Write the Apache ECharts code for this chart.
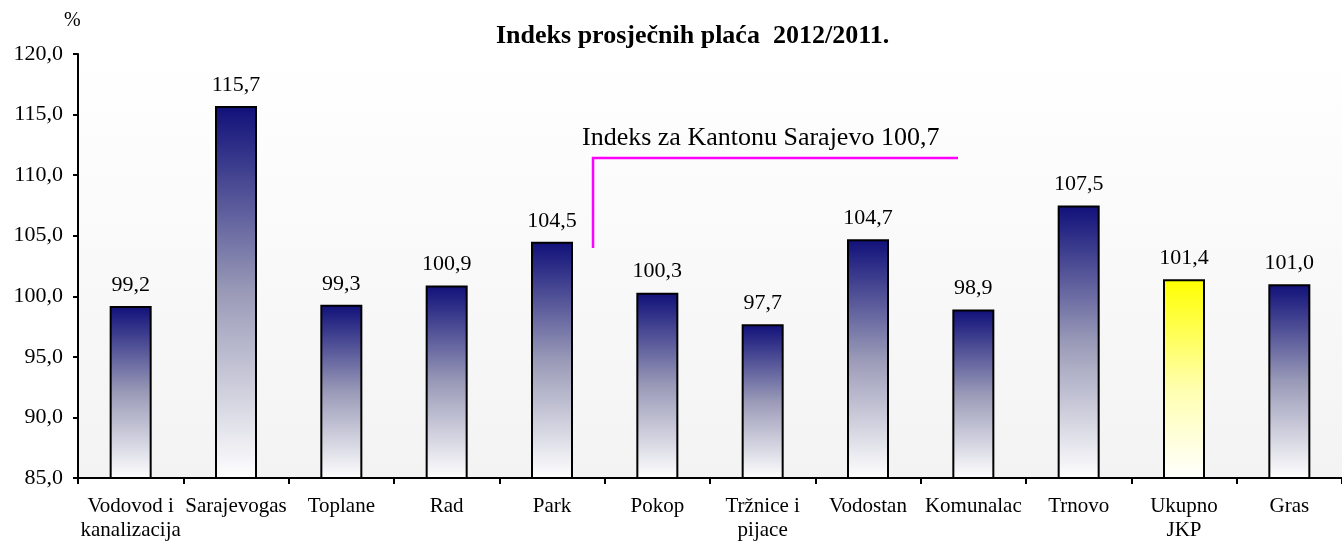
<!DOCTYPE html>
<html>
<head>
<meta charset="utf-8">
<title>Indeks prosječnih plaća 2012/2011.</title>
<script src="https://cdn.jsdelivr.net/npm/echarts@6/dist/echarts.min.js"></script>
<style>
  html, body { margin: 0; padding: 0; background: #fff; }
  #chart { width: 1342px; height: 542px; }
</style>
</head>
<body>
<div id="chart"></div>
<script>
const categories = [
  'Vodovod i\nkanalizacija', 'Sarajevogas', 'Toplane', 'Rad', 'Park', 'Pokop',
  'Tržnice i\npijace', 'Vodostan', 'Komunalac', 'Trnovo', 'Ukupno\nJKP', 'Gras'
];
const indexValues = [99.2, 115.7, 99.3, 100.9, 104.5, 100.3, 97.7, 104.7, 98.9, 107.5, 101.4, 101.0];
const highlighted = ['Ukupno\nJKP'];
const yTicks = [85, 90, 95, 100, 105, 110, 115, 120];

const fontFamily = '"Liberation Serif", "Times New Roman", serif';
const fmt = v => v.toFixed(1).replace('.', ',');

const navyFill = new echarts.graphic.LinearGradient(0, 0, 0, 1, [
  { offset: 0, color: '#10107a' },
  { offset: 0.5, color: '#9a9ab8' },
  { offset: 1, color: '#ffffff' }
]);
const yellowFill = new echarts.graphic.LinearGradient(0, 0, 0, 1, [
  { offset: 0, color: '#ffff00' },
  { offset: 0.55, color: '#ffffb0' },
  { offset: 1, color: '#ffffff' }
]);

const chart = echarts.init(document.getElementById('chart'), null, { renderer: 'canvas' });

chart.setOption({
  animation: false,
  backgroundColor: '#ffffff',
  title: {
    text: 'Indeks prosječnih plaća  2012/2011.',
    left: 491,
    top: 18,
    textStyle: { fontFamily, fontSize: 26, fontWeight: 'bold', color: '#000' }
  },
  grid: {
    left: 78,
    right: -4,
    top: 54,
    bottom: 62,
    show: true,
    borderWidth: 0,
    backgroundColor: new echarts.graphic.LinearGradient(0, 0, 0, 1, [
      { offset: 0, color: '#ffffff' },
      { offset: 1, color: '#f3f3f3' }
    ])
  },
  xAxis: {
    type: 'category',
    data: categories,
    axisLine: { lineStyle: { color: '#000', width: 2 } },
    axisTick: { show: true, alignWithLabel: false, length: 6, lineStyle: { color: '#000', width: 2 } },
    axisLabel: {
      interval: 0,
      margin: 16,
      fontFamily,
      fontSize: 21,
      color: '#000',
      lineHeight: 24
    },
    splitLine: { show: false }
  },
  yAxis: {
    type: 'value',
    min: yTicks[0],
    max: yTicks[yTicks.length - 1],
    interval: 5,
    axisLine: { show: true, lineStyle: { color: '#000', width: 2 } },
    axisTick: { show: true, inside: false, length: 5, lineStyle: { color: '#000', width: 2 } },
    axisLabel: {
      margin: 15,
      fontFamily,
      fontSize: 22,
      color: '#000',
      formatter: fmt
    },
    splitLine: { show: false }
  },
  series: [{
    type: 'bar',
    barWidth: 42,
    data: indexValues.map((v, i) => ({
      value: v,
      itemStyle: {
        color: highlighted.includes(categories[i]) ? yellowFill : navyFill
      }
    })),
    itemStyle: { borderColor: '#000', borderWidth: 2 },
    label: {
      show: true,
      position: 'top',
      distance: 10,
      fontFamily,
      fontSize: 22,
      color: '#000',
      formatter: p => fmt(p.value)
    }
  }],
  graphic: [
    {
      type: 'text',
      left: 64,
      top: 11,
      style: { text: '%', font: '20px ' + fontFamily, fill: '#000' }
    },
    {
      type: 'text',
      left: 582,
      top: 125,
      style: { text: 'Indeks za Kantonu Sarajevo 100,7', font: '26px ' + fontFamily, fill: '#000' }
    },
    {
      type: 'polyline',
      shape: { points: [[593, 248], [593, 158], [958, 158]] },
      style: { stroke: '#ff00ff', lineWidth: 2.5, fill: null }
    }
  ]
});
</script>
</body>
</html>
